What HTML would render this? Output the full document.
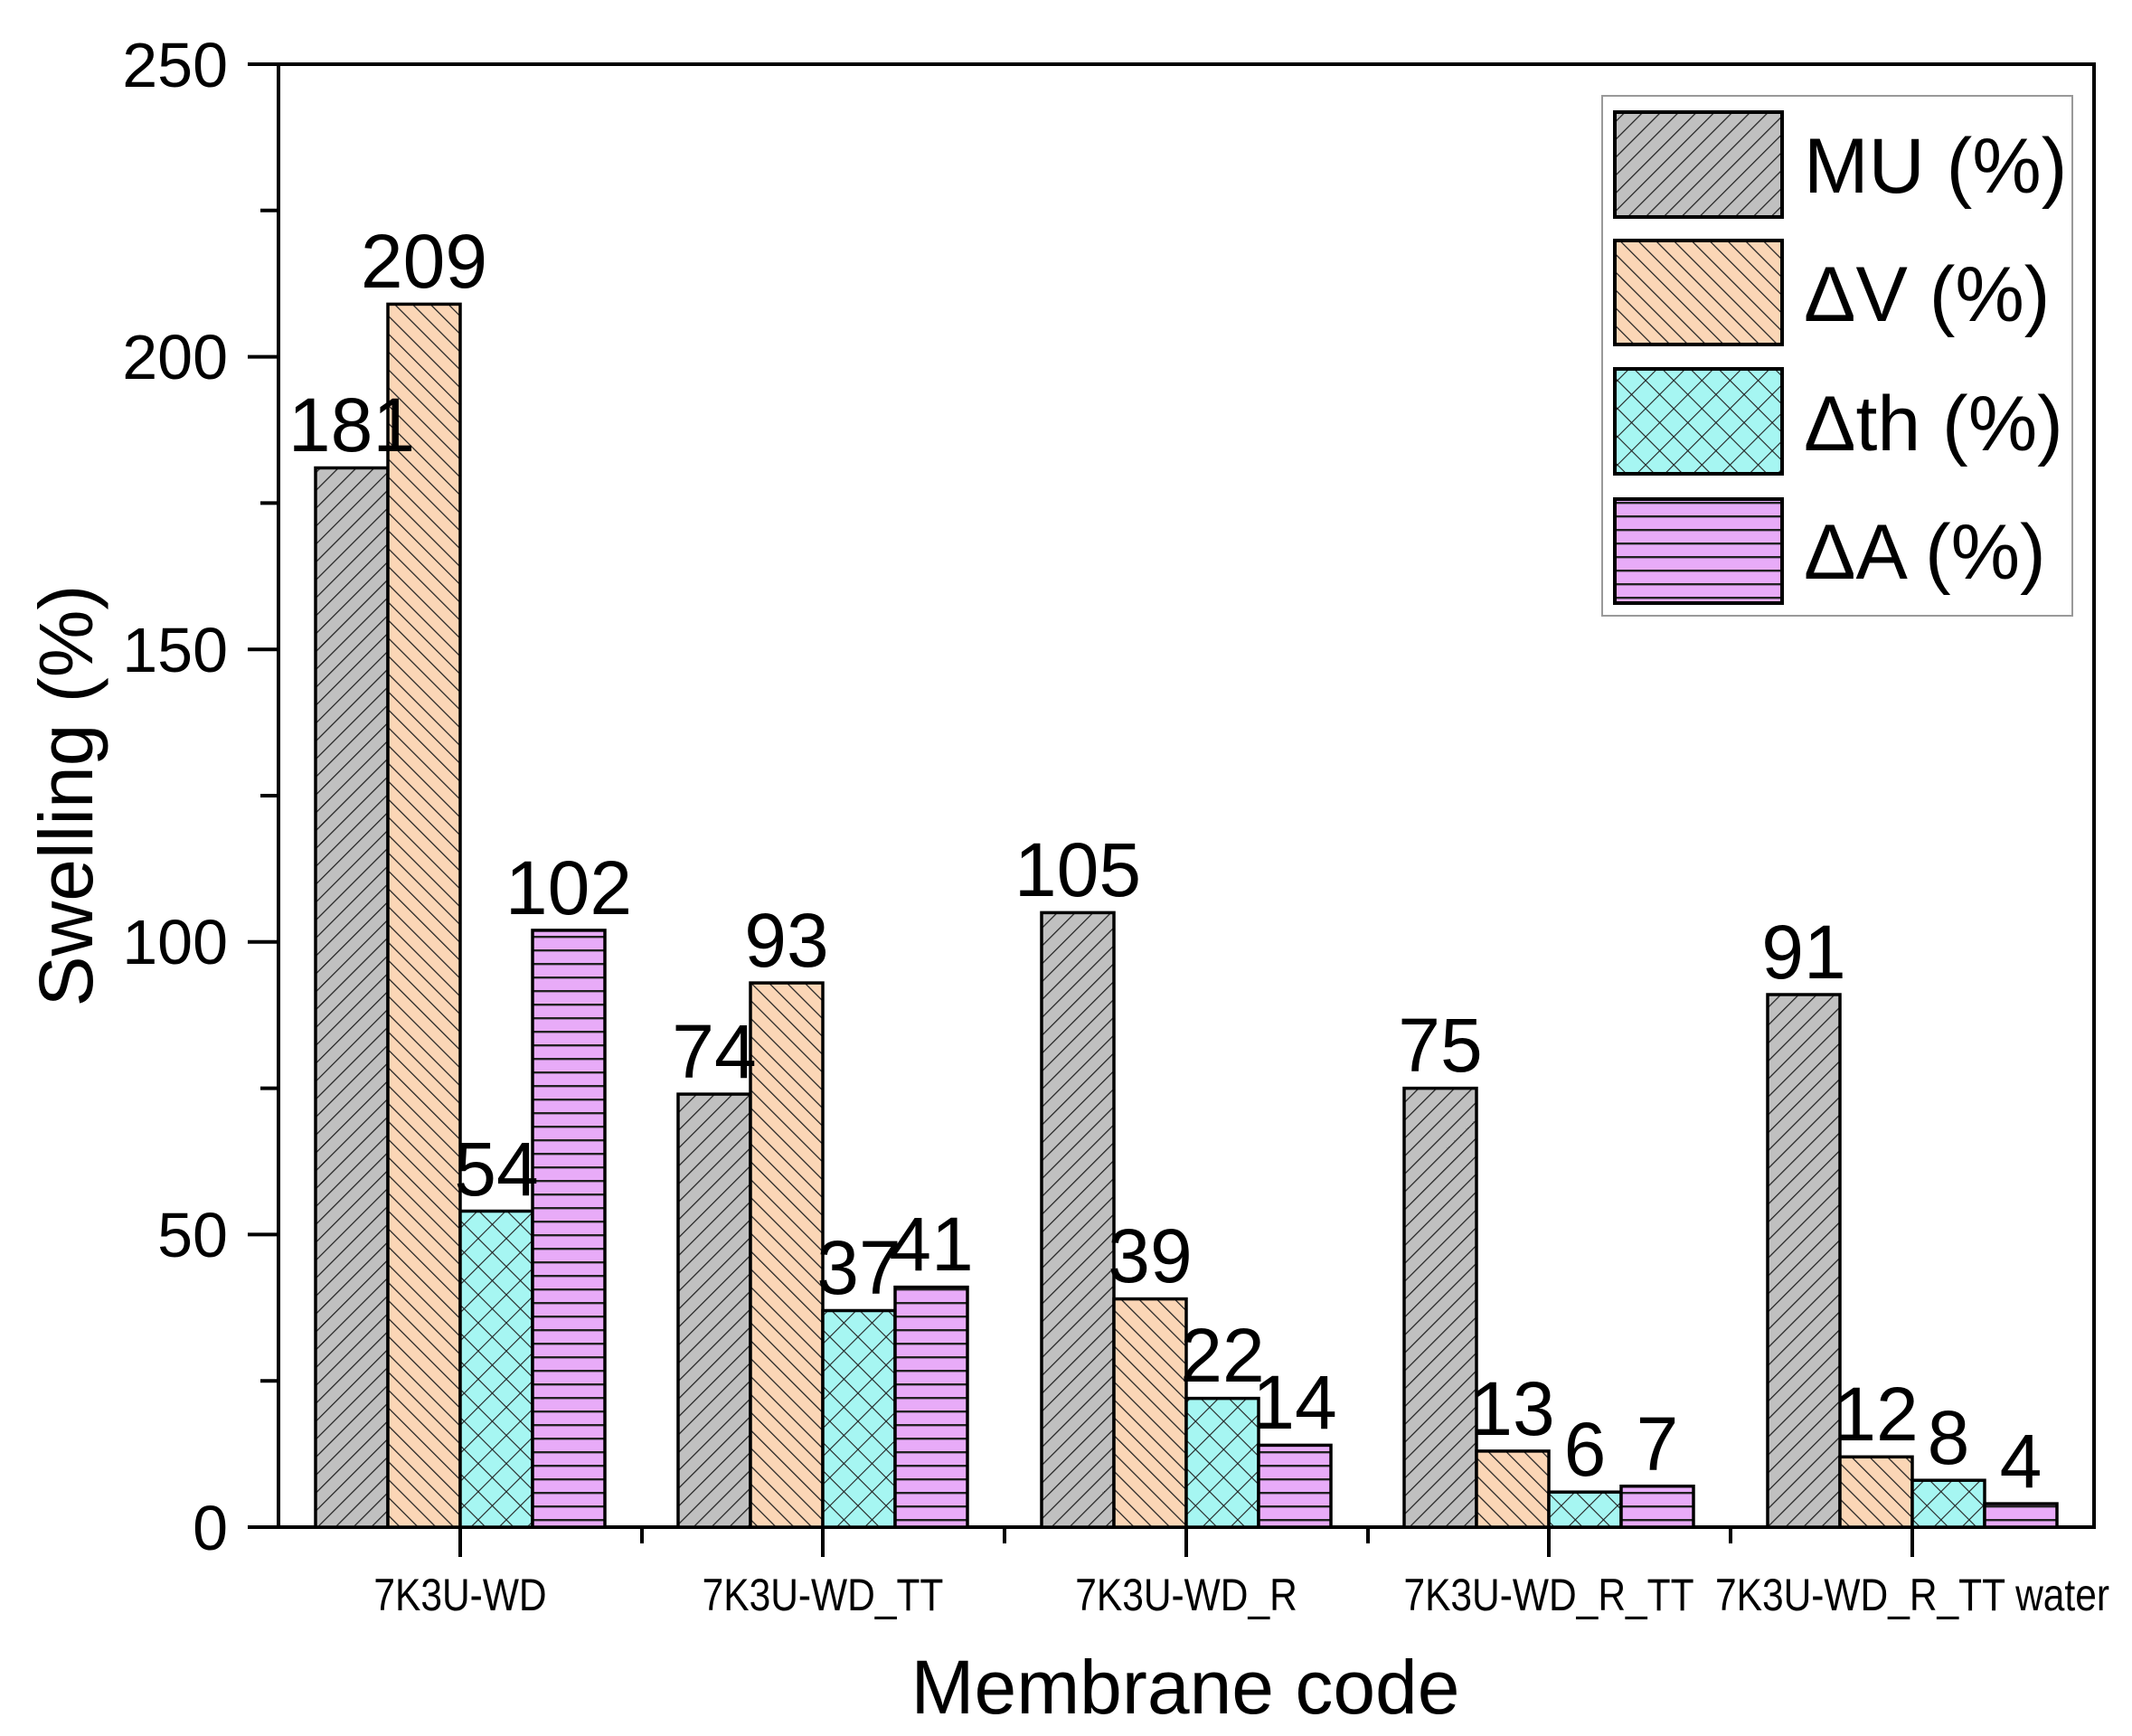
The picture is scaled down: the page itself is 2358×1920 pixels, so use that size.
<!DOCTYPE html>
<html><head><meta charset="utf-8"><style>html,body{margin:0;padding:0;background:#fff}svg{display:block}</style></head><body>
<svg width="2358" height="1920" viewBox="0 0 2358 1920" xmlns="http://www.w3.org/2000/svg" font-family="Liberation Sans, Arial, sans-serif">
<defs>
<pattern id="pMU" patternUnits="userSpaceOnUse" width="14" height="14" patternTransform="rotate(45)">
<rect width="14" height="14" fill="#c0c0c0"/><line x1="0" y1="0" x2="0" y2="14" stroke="#222" stroke-width="2.5"/></pattern>
<pattern id="pV" patternUnits="userSpaceOnUse" width="14" height="14" patternTransform="rotate(-45)">
<rect width="14" height="14" fill="#fbd6b6"/><line x1="0" y1="0" x2="0" y2="14" stroke="#222" stroke-width="2.5"/></pattern>
<pattern id="pTh" patternUnits="userSpaceOnUse" width="22" height="22" patternTransform="rotate(45)">
<rect width="22" height="22" fill="#a6f6f2"/><line x1="0" y1="0" x2="0" y2="22" stroke="#222" stroke-width="2.2"/><line x1="0" y1="0" x2="22" y2="0" stroke="#222" stroke-width="2.2"/></pattern>
<pattern id="pA" patternUnits="userSpaceOnUse" width="20" height="15">
<rect width="20" height="15" fill="#e8abf8"/><line x1="0" y1="1" x2="20" y2="1" stroke="#222" stroke-width="2.8"/></pattern>
</defs>
<rect x="308" y="71" width="2008" height="1618" fill="none" stroke="#000" stroke-width="4"/>
<g stroke="#000" stroke-width="4">
<line x1="274" y1="71" x2="308" y2="71"/><line x1="274" y1="394.6" x2="308" y2="394.6"/><line x1="274" y1="718.2" x2="308" y2="718.2"/><line x1="274" y1="1041.8" x2="308" y2="1041.8"/><line x1="274" y1="1365.4" x2="308" y2="1365.4"/><line x1="274" y1="1689" x2="308" y2="1689"/>
<line x1="288" y1="232.8" x2="308" y2="232.8"/><line x1="288" y1="556.4" x2="308" y2="556.4"/><line x1="288" y1="880" x2="308" y2="880"/><line x1="288" y1="1203.6" x2="308" y2="1203.6"/><line x1="288" y1="1527.2" x2="308" y2="1527.2"/>
<line x1="509" y1="1689" x2="509" y2="1722"/><line x1="910" y1="1689" x2="910" y2="1722"/><line x1="1312" y1="1689" x2="1312" y2="1722"/><line x1="1713" y1="1689" x2="1713" y2="1722"/><line x1="2115" y1="1689" x2="2115" y2="1722"/>
<line x1="710" y1="1689" x2="710" y2="1707"/><line x1="1111" y1="1689" x2="1111" y2="1707"/><line x1="1513" y1="1689" x2="1513" y2="1707"/><line x1="1914" y1="1689" x2="1914" y2="1707"/>
</g>
<g font-size="70" text-anchor="end" fill="#000">
<text x="252" y="96">250</text><text x="252" y="419">200</text><text x="252" y="743">150</text><text x="252" y="1066">100</text><text x="252" y="1390">50</text><text x="252" y="1714">0</text>
</g>
<text transform="translate(102,880) rotate(-90)" font-size="84" text-anchor="middle">Swelling (%)</text>
<g font-size="50" text-anchor="middle">
<text transform="translate(509,1781) scale(0.85,1)">7K3U-WD</text>
<text transform="translate(910,1781) scale(0.85,1)">7K3U-WD_TT</text>
<text transform="translate(1312,1781) scale(0.85,1)">7K3U-WD_R</text>
<text transform="translate(1713,1781) scale(0.85,1)">7K3U-WD_R_TT</text>
<text transform="translate(2115,1781) scale(0.85,1)">7K3U-WD_R_TT water</text>
</g>
<text x="1311" y="1895" font-size="84" text-anchor="middle">Membrane code</text>
<g stroke="#000" stroke-width="3.5">
<rect x="349" y="517.5" width="80" height="1171.5" fill="url(#pMU)"/>
<rect x="429" y="336.4" width="80" height="1352.6" fill="url(#pV)"/>
<rect x="509" y="1339.5" width="80" height="349.5" fill="url(#pTh)"/>
<rect x="589" y="1028.9" width="80" height="660.1" fill="url(#pA)"/>
<rect x="750" y="1210.1" width="80" height="478.9" fill="url(#pMU)"/>
<rect x="830" y="1087.1" width="80" height="601.9" fill="url(#pV)"/>
<rect x="910" y="1449.5" width="80" height="239.5" fill="url(#pTh)"/>
<rect x="990" y="1423.6" width="80" height="265.4" fill="url(#pA)"/>
<rect x="1152" y="1009.4" width="80" height="679.6" fill="url(#pMU)"/>
<rect x="1232" y="1436.6" width="80" height="252.4" fill="url(#pV)"/>
<rect x="1312" y="1546.6" width="80" height="142.4" fill="url(#pTh)"/>
<rect x="1392" y="1598.4" width="80" height="90.6" fill="url(#pA)"/>
<rect x="1553" y="1203.6" width="80" height="485.4" fill="url(#pMU)"/>
<rect x="1633" y="1604.9" width="80" height="84.1" fill="url(#pV)"/>
<rect x="1713" y="1650.2" width="80" height="38.8" fill="url(#pTh)"/>
<rect x="1793" y="1643.7" width="80" height="45.3" fill="url(#pA)"/>
<rect x="1955" y="1100.0" width="80" height="589" fill="url(#pMU)"/>
<rect x="2035" y="1611.3" width="80" height="77.7" fill="url(#pV)"/>
<rect x="2115" y="1637.2" width="80" height="51.8" fill="url(#pTh)"/>
<rect x="2195" y="1663.1" width="80" height="25.9" fill="url(#pA)"/>
</g>
<g font-size="84" text-anchor="middle">
<text x="389" y="499">181</text><text x="469" y="318">209</text><text x="549" y="1322">54</text><text x="629" y="1011">102</text>
<text x="790" y="1192">74</text><text x="870" y="1069">93</text><text x="950" y="1431">37</text><text x="1030" y="1405">41</text>
<text x="1192" y="991">105</text><text x="1272" y="1418">39</text><text x="1352" y="1528">22</text><text x="1432" y="1580">14</text>
<text x="1593" y="1185">75</text><text x="1673" y="1587">13</text><text x="1753" y="1632">6</text><text x="1833" y="1626">7</text>
<text x="1995" y="1082">91</text><text x="2075" y="1593">12</text><text x="2155" y="1619">8</text><text x="2235" y="1645">4</text>
</g>
<rect x="1772" y="106" width="520" height="575" fill="#fff" stroke="#999" stroke-width="2"/>
<g stroke="#000" stroke-width="4">
<rect x="1786" y="124" width="185" height="116" fill="url(#pMU)"/>
<rect x="1786" y="266" width="185" height="115" fill="url(#pV)"/>
<rect x="1786" y="408" width="185" height="116" fill="url(#pTh)"/>
<rect x="1786" y="552" width="185" height="115" fill="url(#pA)"/>
</g>
<g font-size="86">
<text x="1995" y="213">MU (%)</text><text x="1995" y="355">ΔV (%)</text><text x="1995" y="498">Δth (%)</text><text x="1995" y="640">ΔA (%)</text>
</g>
</svg>
</body></html>
